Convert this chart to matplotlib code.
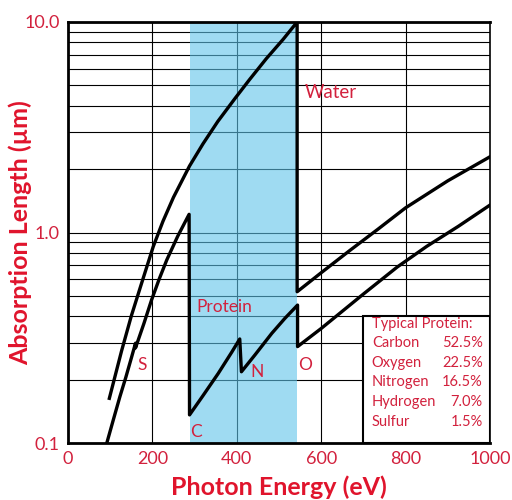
import matplotlib.pyplot as plt
from matplotlib.patches import Rectangle

# water absorption length (um) vs photon energy (eV), O edge at 543 eV
water_e = [98, 127, 150, 175, 202, 225, 250, 288, 320, 355, 396, 430, 470, 510, 543,
           543, 600, 668, 734, 800, 900, 1000]
water_len = [0.163, 0.274, 0.401, 0.579, 0.857, 1.13, 1.47, 2.07, 2.64, 3.37, 4.34,
             5.32, 6.70, 8.28, 10.0,
             0.523, 0.644, 0.822, 1.035, 1.31, 1.76, 2.29]

# protein absorption length (um), with S, C, N, O edges
protein_e = [92, 107, 123, 137, 151, 160, 160, 180, 198, 216, 234, 260, 287,
             288, 320, 356, 388, 407,
             411, 443, 483, 514, 544,
             544, 600, 700, 780, 850, 925, 1000]
protein_len = [0.100, 0.128, 0.166, 0.205, 0.257, 0.298, 0.283, 0.37, 0.478, 0.60,
               0.74, 0.96, 1.22,
               0.136, 0.168, 0.214, 0.270, 0.312,
               0.218, 0.262, 0.332, 0.391, 0.452,
               0.287, 0.35, 0.51, 0.685, 0.859, 1.07, 1.35]

composition = ["Carbon", "Oxygen", "Nitrogen", "Hydrogen", "Sulfur"]
percent = ["52.5%", "22.5%", "16.5%", "7.0%", "1.5%"]

red = '#d2213d'
red_bold = '#e0142c'
plt.rcParams['font.family'] = ['Lato', 'DejaVu Sans']

fig = plt.figure(figsize=(5.12, 5.0), dpi=100)
ax = fig.add_axes([0.1328, 0.114, 0.8242, 0.842])

ax.set_yscale('log')
ax.set_xlim(0, 1000)
ax.set_ylim(0.1, 10)

# grid
for v in [200, 400, 600, 800]:
    ax.axvline(v, color='k', lw=0.8, zorder=1)
for dec in [0.1, 1]:
    for m in range(2, 11):
        ax.axhline(dec * m, color='k', lw=0.8, zorder=1)

# shaded water window
ax.axvspan(288, 543, color='#5fc4ea', alpha=0.6, lw=0, zorder=2)

ax.plot(water_e, water_len, color='k', lw=2.4, zorder=4)
ax.plot(protein_e, protein_len, color='k', lw=2.4, zorder=4)

# composition box
ax.add_patch(Rectangle((700, 0.1), 300, 0.30, facecolor='white', edgecolor='k',
                       lw=1.5, zorder=5))
ax.text(720, 0.368, "Typical Protein:", color=red, fontsize=10.5, va='center', zorder=6)
ys = [0.297, 0.240, 0.194, 0.156, 0.126]
for name, pct, yy in zip(composition, percent, ys):
    ax.text(720, yy, name, color=red, fontsize=10.5, va='center', zorder=6)
    ax.text(983, yy, pct, color=red, fontsize=10.5, va='center', ha='right', zorder=6)

# curve labels
ax.text(562, 4.6, "Water", color=red, fontsize=13.5, va='center', zorder=6)
ax.text(305, 0.443, "Protein", color=red, fontsize=12.5, va='center', zorder=6)
ax.text(175, 0.235, "S", color=red, fontsize=12.5, va='center', ha='center', zorder=6)
ax.text(303, 0.113, "C", color=red, fontsize=12.5, va='center', ha='center', zorder=6)
ax.text(447, 0.218, "N", color=red, fontsize=12.5, va='center', ha='center', zorder=6)
ax.text(562, 0.235, "O", color=red, fontsize=12.5, va='center', ha='center', zorder=6)

# ticks
ax.set_xticks([0, 200, 400, 600, 800, 1000])
ax.set_xticklabels(['0', '200', '400', '600', '800', '1000'])
ax.set_yticks([0.1, 1, 10])
ax.set_yticklabels(['0.1', '1.0', '10.0'])
ax.minorticks_off()
ax.tick_params(length=0, labelsize=13, labelcolor=red, pad=6)

for s in ['left', 'bottom', 'top']:
    ax.spines[s].set_linewidth(2)
ax.spines['right'].set_linewidth(1.2)
for s in ax.spines.values():
    s.set_zorder(7)

ax.set_xlabel('Photon Energy (eV)', color=red_bold, fontsize=18, fontweight='bold')
ax.set_ylabel('Absorption Length (\u00b5m)', color=red_bold, fontsize=18, fontweight='bold')
ax.xaxis.set_label_coords(0.5, -0.078)
ax.yaxis.set_label_coords(-0.085, 0.5)

fig.savefig('out.png', dpi=100)
